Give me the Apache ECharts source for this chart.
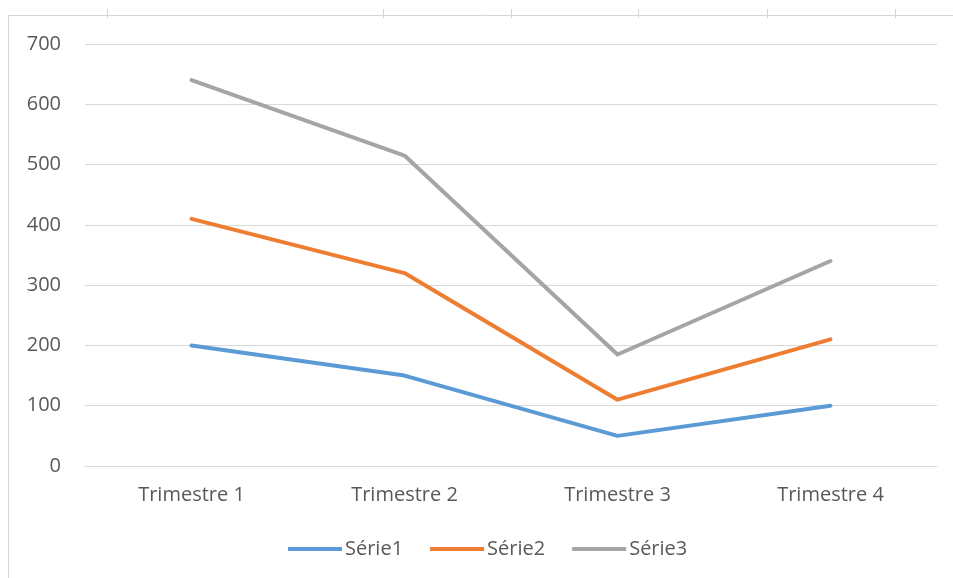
<!DOCTYPE html>
<html>
<head>
<meta charset="utf-8">
<script src="https://cdn.jsdelivr.net/npm/echarts@6/dist/echarts.min.js"></script>
<style>
  html, body { margin: 0; padding: 0; background: #ffffff; }
  #chart { width: 953px; height: 578px; }
</style>
</head>
<body>
<div id="chart"></div>
<script>
// Quarterly values per series
const categories = ['Trimestre 1', 'Trimestre 2', 'Trimestre 3', 'Trimestre 4'];
const serie1 = [200, 150, 50, 100];
const serie2 = [410, 320, 110, 210];
const serie3 = [640, 515, 185, 340];
const seriesNames = ['Série1', 'Série2', 'Série3'];
const yTicks = { min: 0, max: 700, step: 100 };

const colors = ['#5B9BD5', '#ED7D31', '#A5A5A5'];
const textColor = '#595959';
const fontFamily = '"Open Sans", "Noto Sans", sans-serif';
const fontSize = 20;

const chart = echarts.init(document.getElementById('chart'), null, { renderer: 'canvas' });

// Sheet frame around the chart area (column header strip and left edge)
const frameColor = '#d4d4d4';
const headerTicks = [107, 383, 511, 638, 767, 895];
const frame = [
  { type: 'line', shape: { x1: 8, y1: 15.5, x2: 953, y2: 15.5 }, style: { stroke: frameColor, lineWidth: 1 }, silent: true },
  { type: 'line', shape: { x1: 8.5, y1: 15, x2: 8.5, y2: 578 }, style: { stroke: frameColor, lineWidth: 1 }, silent: true }
].concat(headerTicks.map(x => ({
  type: 'line', shape: { x1: x + 0.5, y1: 9, x2: x + 0.5, y2: 18 }, style: { stroke: frameColor, lineWidth: 1 }, silent: true
})));

const data = [serie1, serie2, serie3];

chart.setOption({
  animation: false,
  backgroundColor: '#ffffff',
  color: colors,
  textStyle: { fontFamily: fontFamily },
  graphic: frame,
  grid: { left: 85, right: 16, top: 44, bottom: 112, containLabel: false },
  legend: {
    top: 539,
    left: 288,
    padding: 0,
    itemWidth: 54,
    itemHeight: 4,
    itemGap: 27,
    icon: 'rect',
    textStyle: { color: textColor, fontSize: fontSize, fontFamily: fontFamily, padding: [0, 0, 0, -2] },
    data: seriesNames
  },
  xAxis: {
    type: 'category',
    data: categories,
    boundaryGap: true,
    axisLine: { show: true, lineStyle: { color: '#d9d9d9', width: 1 } },
    axisTick: { show: false },
    axisLabel: { color: textColor, fontSize: fontSize, margin: 19, fontFamily: fontFamily },
    splitLine: { show: false }
  },
  yAxis: {
    type: 'value',
    min: yTicks.min,
    max: yTicks.max,
    interval: yTicks.step,
    axisLine: { show: false },
    axisTick: { show: false },
    axisLabel: { color: textColor, fontSize: fontSize, margin: 24, fontFamily: fontFamily },
    splitLine: { show: true, lineStyle: { color: '#d9d9d9', width: 1 } }
  },
  series: seriesNames.map((name, i) => ({
    name: name,
    type: 'line',
    data: data[i],
    symbol: 'none',
    smooth: false,
    lineStyle: { width: 4, color: colors[i], cap: 'round', join: 'round' },
    itemStyle: { color: colors[i] }
  }))
});
</script>
</body>
</html>
